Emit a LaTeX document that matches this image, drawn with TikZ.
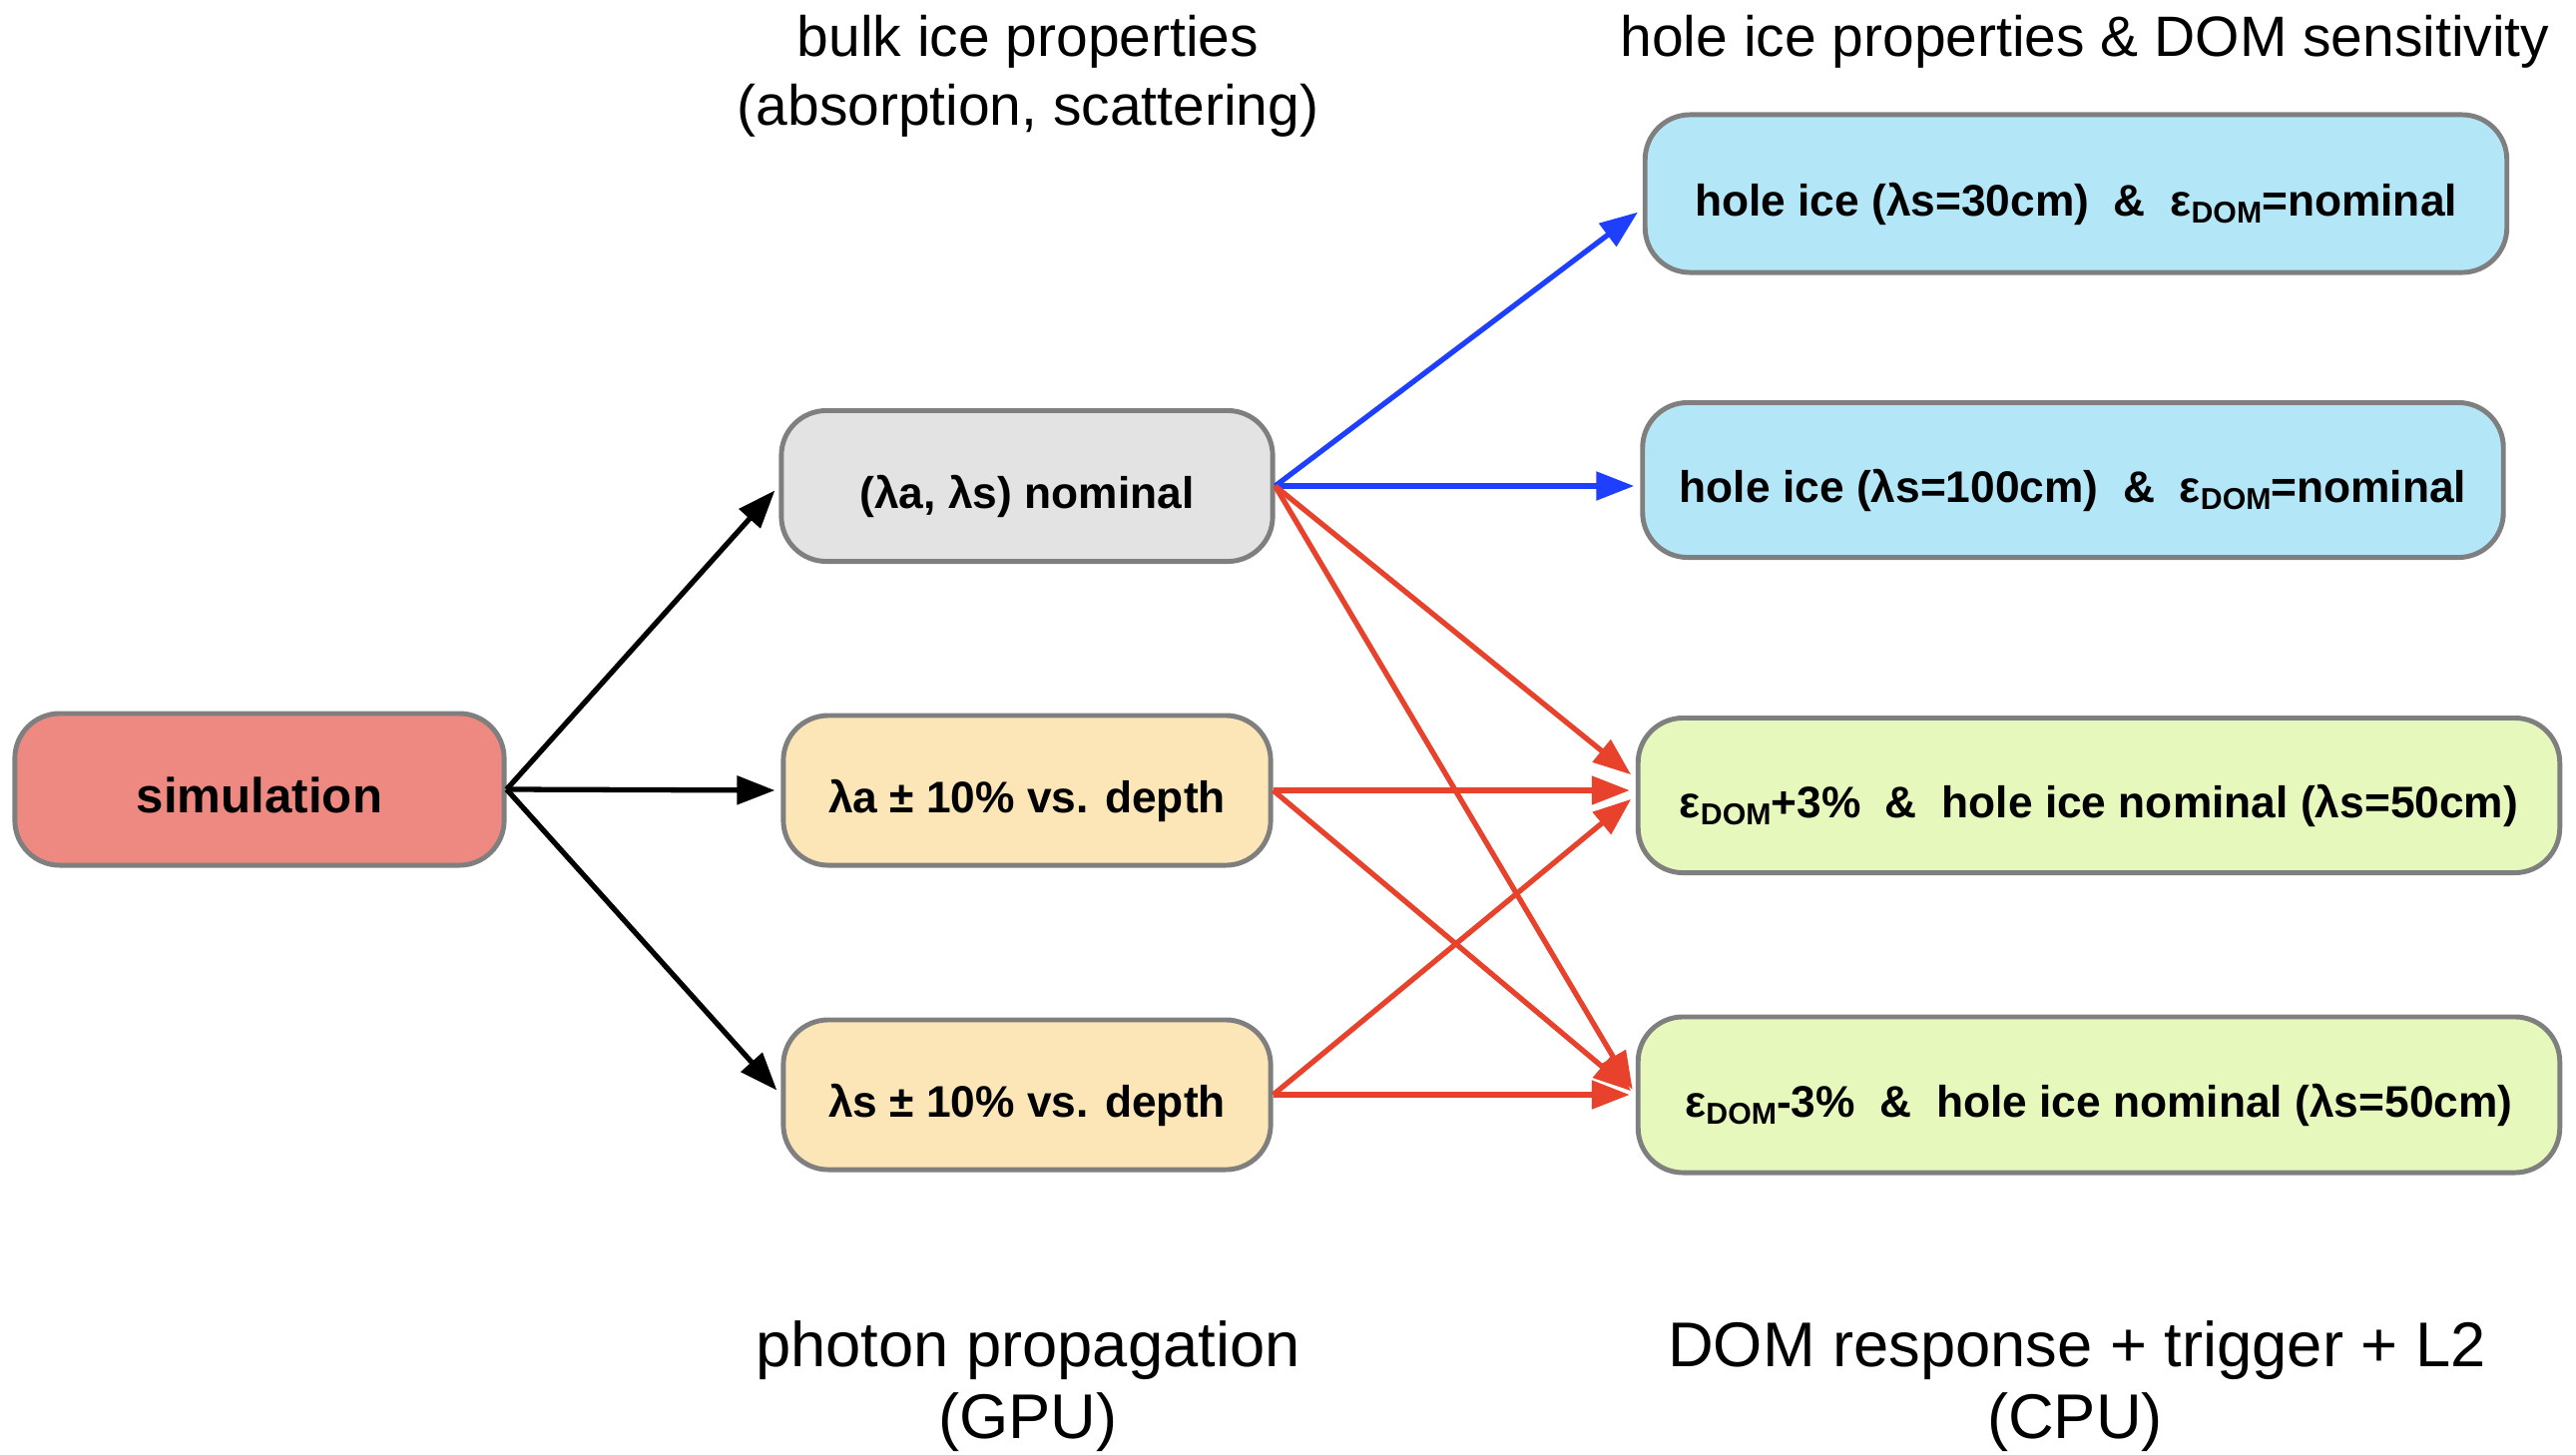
\documentclass[tikz,border=0pt]{standalone}
\usepackage{fontspec}
\setmainfont{Liberation Sans}
\usetikzlibrary{arrows.meta}
\definecolor{simred}{HTML}{EE8982}
\definecolor{nomgray}{HTML}{E3E3E3}
\definecolor{peach}{HTML}{FCE5B6}
\definecolor{skyblue}{HTML}{B3E7F8}
\definecolor{lime}{HTML}{E6F8BB}
\definecolor{boxgray}{HTML}{7F7F7F}
\definecolor{arrred}{HTML}{E8412C}
\definecolor{arrblue}{HTML}{1F3FFF}
\newcommand\domsub{\raisebox{-0.3ex}{\fontsize{8.6}{9}\selectfont DOM}}
\tikzset{
  box/.style={draw=boxgray, line width=1.4pt, rounded corners=0.45cm, inner sep=0pt,
    text height=12.6pt, text depth=0pt,
    font=\fontsize{12.6}{14}\selectfont\bfseries},
  arr/.style={-{Triangle[length=0.38cm,width=0.28cm]}, line width=1.5pt, shorten >=0.06cm},
  hdr/.style={font=\fontsize{16.2}{19}\selectfont, anchor=base, inner sep=0pt},
  ftr/.style={font=\fontsize{18}{21}\selectfont, anchor=base, inner sep=0pt},
}
\begin{document}
\begin{tikzpicture}[x=0.01cm, y=-0.01cm]
\useasboundingbox (0,0) rectangle (2581,1457);

% boxes
\node[box, fill=simred, minimum width=4.9cm, minimum height=1.52cm,
  text height=13.4pt, font=\fontsize{14}{16}\selectfont\bfseries] (sim) at (260,791) {simulation};
\node[box, fill=nomgray, minimum width=4.92cm, minimum height=1.51cm] (nom) at (1029,487) {(λa, λs) nominal};
\node[box, fill=peach, minimum width=4.88cm, minimum height=1.5cm] (la) at (1029,792) {λa ± 10\% vs. depth};
\node[box, fill=peach, minimum width=4.88cm, minimum height=1.5cm] (ls) at (1029,1097) {λs ± 10\% vs. depth};

\node[box, fill=skyblue, minimum width=8.63cm, minimum height=1.58cm] (h30) at (2080,194)
  {hole ice (λs=30cm)\ \ \&\ \ ε\domsub=nominal};
\node[box, fill=skyblue, minimum width=8.62cm, minimum height=1.55cm] (h100) at (2077,481)
  {hole ice (λs=100cm)\ \ \&\ \ ε\domsub=nominal};
\node[box, fill=lime, minimum width=9.23cm, minimum height=1.55cm] (p3) at (2103,797)
  {ε\domsub+3\%\ \ \&\ \ hole ice nominal (λs=50cm)};
\node[box, fill=lime, minimum width=9.23cm, minimum height=1.56cm] (m3) at (2103,1097)
  {ε\domsub-3\%\ \ \&\ \ hole ice nominal (λs=50cm)};

% headers and footers
\node[hdr] (hA1) at (1030,56) {bulk ice properties};
\node[hdr] (hA2) at (1030,125) {(absorption, scattering)};
\node[hdr] (hB1) at (2089,56) {hole ice properties \& DOM sensitivity};
\node[ftr] (fA1) at (1030,1369) {photon propagation};
\node[ftr] (fA2) at (1030,1441) {(GPU)};
\node[ftr] (fB1) at (2081,1369) {DOM response + trigger + L2};
\node[ftr] (fB2) at (2079,1441) {(CPU)};

% black arrows
\draw[arr, black] (sim.east) -- (nom.west);
\draw[arr, black] (sim.east) -- (la.west);
\draw[arr, black] (sim.east) -- (ls.west);

% blue arrows
\draw[arr, arrblue] (nom.east) -- ([yshift=-0.15cm]h30.west);
\draw[arr, arrblue] (nom.east) -- (h100.west |- nom.east);

% red arrows
\draw[arr, arrred] (nom.east) -- ([yshift=0.17cm]p3.west);
\draw[arr, arrred] (nom.east) -- (m3.west);
\draw[arr, arrred] (la.east) -- (p3.west |- la.east);
\draw[arr, arrred] (la.east) -- (m3.west);
\draw[arr, arrred] (ls.east) -- (p3.west);
\draw[arr, arrred] (ls.east) -- (m3.west |- ls.east);
\end{tikzpicture}
\end{document}
